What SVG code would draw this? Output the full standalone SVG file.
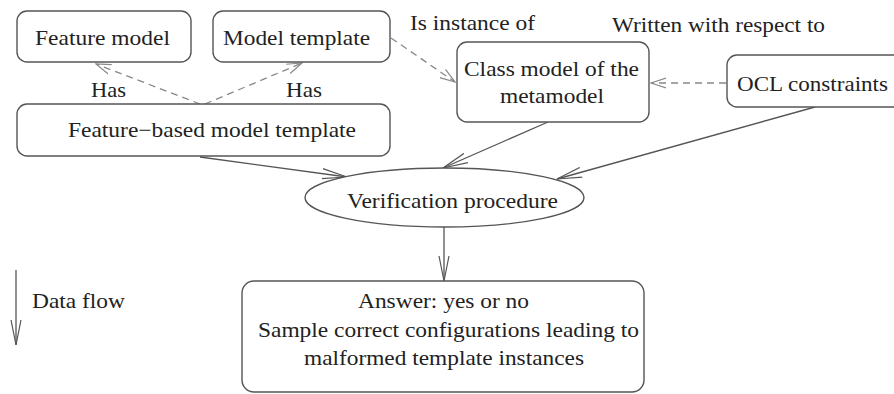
<svg xmlns="http://www.w3.org/2000/svg" width="894" height="394" viewBox="0 0 894 394">
<style>
.box{fill:#fff;stroke:#555;stroke-width:1.4}
.t{font-family:"Liberation Serif","Times New Roman",serif;font-size:21px;fill:#222;text-anchor:middle}
.tl{font-family:"Liberation Serif","Times New Roman",serif;font-size:21px;fill:#222}
.c{fill:none;stroke:#555;stroke-width:1.3}
.d{fill:none;stroke:#888;stroke-width:1.3;stroke-dasharray:7 5}
</style>
<defs>
<marker id="ah" viewBox="0 0 26 12" refX="25" refY="6" markerWidth="26" markerHeight="12" markerUnits="userSpaceOnUse" orient="auto">
<polyline points="0,1 25,6 0,11" fill="none" stroke="#555" stroke-width="1.2"/>
</marker>
<marker id="ahd" viewBox="0 0 16 12" refX="15" refY="6" markerWidth="16" markerHeight="12" markerUnits="userSpaceOnUse" orient="auto">
<polyline points="0,1 15,6 0,11" fill="none" stroke="#888" stroke-width="1.2"/>
</marker>
</defs>
<rect width="894" height="394" fill="#fff"/>
<g id="connectors">
<line class="d" x1="200" y1="104" x2="96" y2="64" marker-end="url(#ahd)"/>
<line class="d" x1="205" y1="104" x2="302" y2="63" marker-end="url(#ahd)"/>
<line class="d" x1="391" y1="38" x2="455" y2="82" marker-end="url(#ahd)"/>
<line class="d" x1="726" y1="83" x2="651" y2="83" marker-end="url(#ahd)"/>
<line class="c" x1="200" y1="157" x2="347" y2="177" marker-end="url(#ah)"/>
<line class="c" x1="548" y1="122" x2="443" y2="168" marker-end="url(#ah)"/>
<line class="c" x1="815" y1="107" x2="557" y2="179" marker-end="url(#ah)"/>
<line class="c" x1="444" y1="227" x2="444" y2="281" marker-end="url(#ah)"/>
<line class="c" x1="16" y1="270" x2="16" y2="345" marker-end="url(#ah)"/>
</g>
<g id="labels">
<text class="t" x="108.5" y="97" textLength="35" lengthAdjust="spacingAndGlyphs">Has</text>
<text class="t" x="304" y="97" textLength="36" lengthAdjust="spacingAndGlyphs">Has</text>
<text class="tl" x="410" y="30" textLength="125" lengthAdjust="spacingAndGlyphs">Is instance of</text>
<text class="tl" x="612" y="32" textLength="213" lengthAdjust="spacingAndGlyphs">Written with respect to</text>
<text class="tl" x="32" y="308" textLength="93" lengthAdjust="spacingAndGlyphs">Data flow</text>
</g>
<g id="feature-model">
<rect class="box" x="17" y="11" width="174" height="51" rx="10"/>
<text class="t" x="102.5" y="45" textLength="135" lengthAdjust="spacingAndGlyphs">Feature model</text>
</g>
<g id="model-template">
<rect class="box" x="213" y="11" width="177" height="51" rx="10"/>
<text class="t" x="296.5" y="45" textLength="147" lengthAdjust="spacingAndGlyphs">Model template</text>
</g>
<g id="feature-based-model-template">
<rect class="box" x="17" y="104" width="373" height="52" rx="10"/>
<text class="t" x="212" y="137" textLength="288" lengthAdjust="spacingAndGlyphs">Feature−based model template</text>
</g>
<g id="class-model">
<rect class="box" x="457" y="42" width="192" height="80" rx="10"/>
<text class="t" x="551.5" y="76" textLength="175" lengthAdjust="spacingAndGlyphs">Class model of the</text>
<text class="t" x="552" y="103" textLength="104" lengthAdjust="spacingAndGlyphs">metamodel</text>
</g>
<g id="ocl-constraints">
<rect class="box" x="727" y="55" width="180" height="52" rx="10"/>
<text class="t" x="812.5" y="91" textLength="151" lengthAdjust="spacingAndGlyphs">OCL constraints</text>
</g>
<g id="verification-procedure">
<ellipse class="box" cx="444.5" cy="197.5" rx="139.5" ry="29.5"/>
<text class="t" x="452.5" y="208" textLength="211" lengthAdjust="spacingAndGlyphs">Verification procedure</text>
</g>
<g id="answer">
<rect class="box" x="242" y="281" width="402" height="111" rx="12"/>
<text class="t" x="443.5" y="308" textLength="171" lengthAdjust="spacingAndGlyphs">Answer: yes or no</text>
<text class="t" x="448.5" y="337" textLength="381" lengthAdjust="spacingAndGlyphs">Sample correct configurations leading to</text>
<text class="t" x="444" y="365" textLength="280" lengthAdjust="spacingAndGlyphs">malformed template instances</text>
</g>
</svg>
